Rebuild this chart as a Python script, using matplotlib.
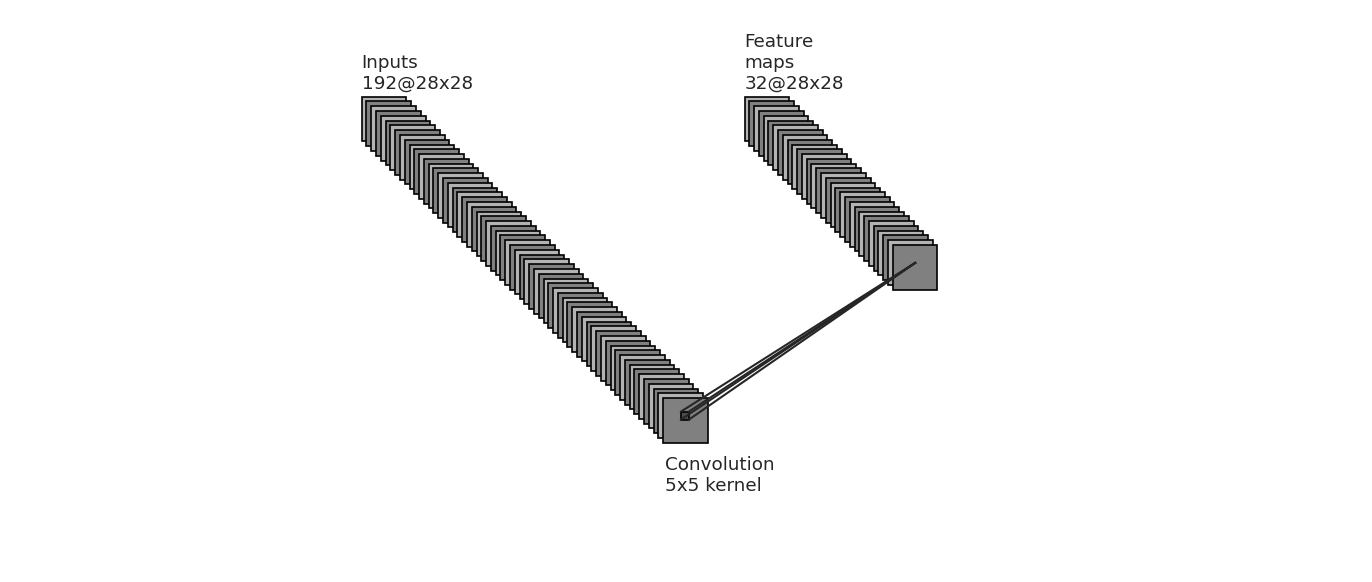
import numpy as np
import matplotlib.pyplot as plt
from matplotlib.patches import Rectangle

# Network description

layer_names = ["Inputs", "Feature\nmaps"]
layer_maps = [192, 32]
layer_sizes = [28, 28]
layer_shown = [64, 32]

conv_names = ["Convolution"]
conv_kernels = [5]

# Layout (data units)

LAYER_X = [0, 240]
LOC_DIFF = np.array([3, -3])
START_RATIO = [0.4, 0.3]
END_RATIO = [0.5, 0.4]
LABEL_OFF = 5

LIGHT = 0.7
MEDIUM = 0.5
DARK = 0.3
DARKER = 0.15

SCALE = 1.595  # pixels per data unit
ORIGIN_PX = (361.7, 96.7)
W, H = 1372, 582
FONT_SIZE = 13.25
TEXT_COLOR = "#262626"


def gray(v):
    return (v, v, v)


def box_top_left(layer, ind):
    return np.array([LAYER_X[layer], 0.0]) + ind * LOC_DIFF


fig = plt.figure(figsize=(W / 100, H / 100), dpi=100)
ax = fig.add_axes([0, 0, 1, 1])
ax.set_xlim(-ORIGIN_PX[0] / SCALE, (W - ORIGIN_PX[0]) / SCALE)
ax.set_ylim(-(H - ORIGIN_PX[1]) / SCALE, ORIGIN_PX[1] / SCALE)
ax.axis("off")

# Layers

for layer in range(len(layer_names)):
    size = layer_sizes[layer]
    for ind in range(layer_shown[layer]):
        tl = box_top_left(layer, ind)
        color = MEDIUM if ind % 2 else LIGHT
        ax.add_patch(
            Rectangle(
                (tl[0], tl[1] - size),
                size,
                size,
                facecolor=gray(color),
                edgecolor="black",
                linewidth=1.2,
            )
        )
    ax.text(
        LAYER_X[layer],
        LABEL_OFF,
        f"{layer_names[layer]}\n{layer_maps[layer]}@{size}x{size}",
        fontsize=FONT_SIZE,
        color=TEXT_COLOR,
        va="baseline",
        ha="left",
    )

# Convolution mapping

for ind in range(len(conv_names)):
    k = conv_kernels[ind]
    size_a = layer_sizes[ind]
    size_b = layer_sizes[ind + 1]
    last_a = box_top_left(ind, layer_shown[ind] - 1)
    last_b = box_top_left(ind + 1, layer_shown[ind + 1] - 1)

    start = last_a + np.array([START_RATIO[0] * size_a, -START_RATIO[1] * size_a])
    end = last_b + np.array([END_RATIO[0] * size_b, -END_RATIO[1] * size_b])

    ax.add_patch(
        Rectangle(
            (start[0], start[1] - k),
            k,
            k,
            facecolor=gray(DARK),
            edgecolor="black",
            linewidth=1.2,
        )
    )
    for dx, dy in [(0, 0), (k, 0), (0, -k), (k, -k)]:
        ax.plot(
            [start[0] + dx, end[0]],
            [start[1] + dy, end[1]],
            color=gray(DARKER),
            linewidth=1.5,
        )

    ax.text(
        last_a[0] + 1,
        last_a[1] - size_a - 30,
        f"{conv_names[ind]}\n{k}x{k} kernel",
        fontsize=FONT_SIZE,
        color=TEXT_COLOR,
        va="baseline",
        ha="left",
    )

fig.savefig("out.png", dpi=100)
